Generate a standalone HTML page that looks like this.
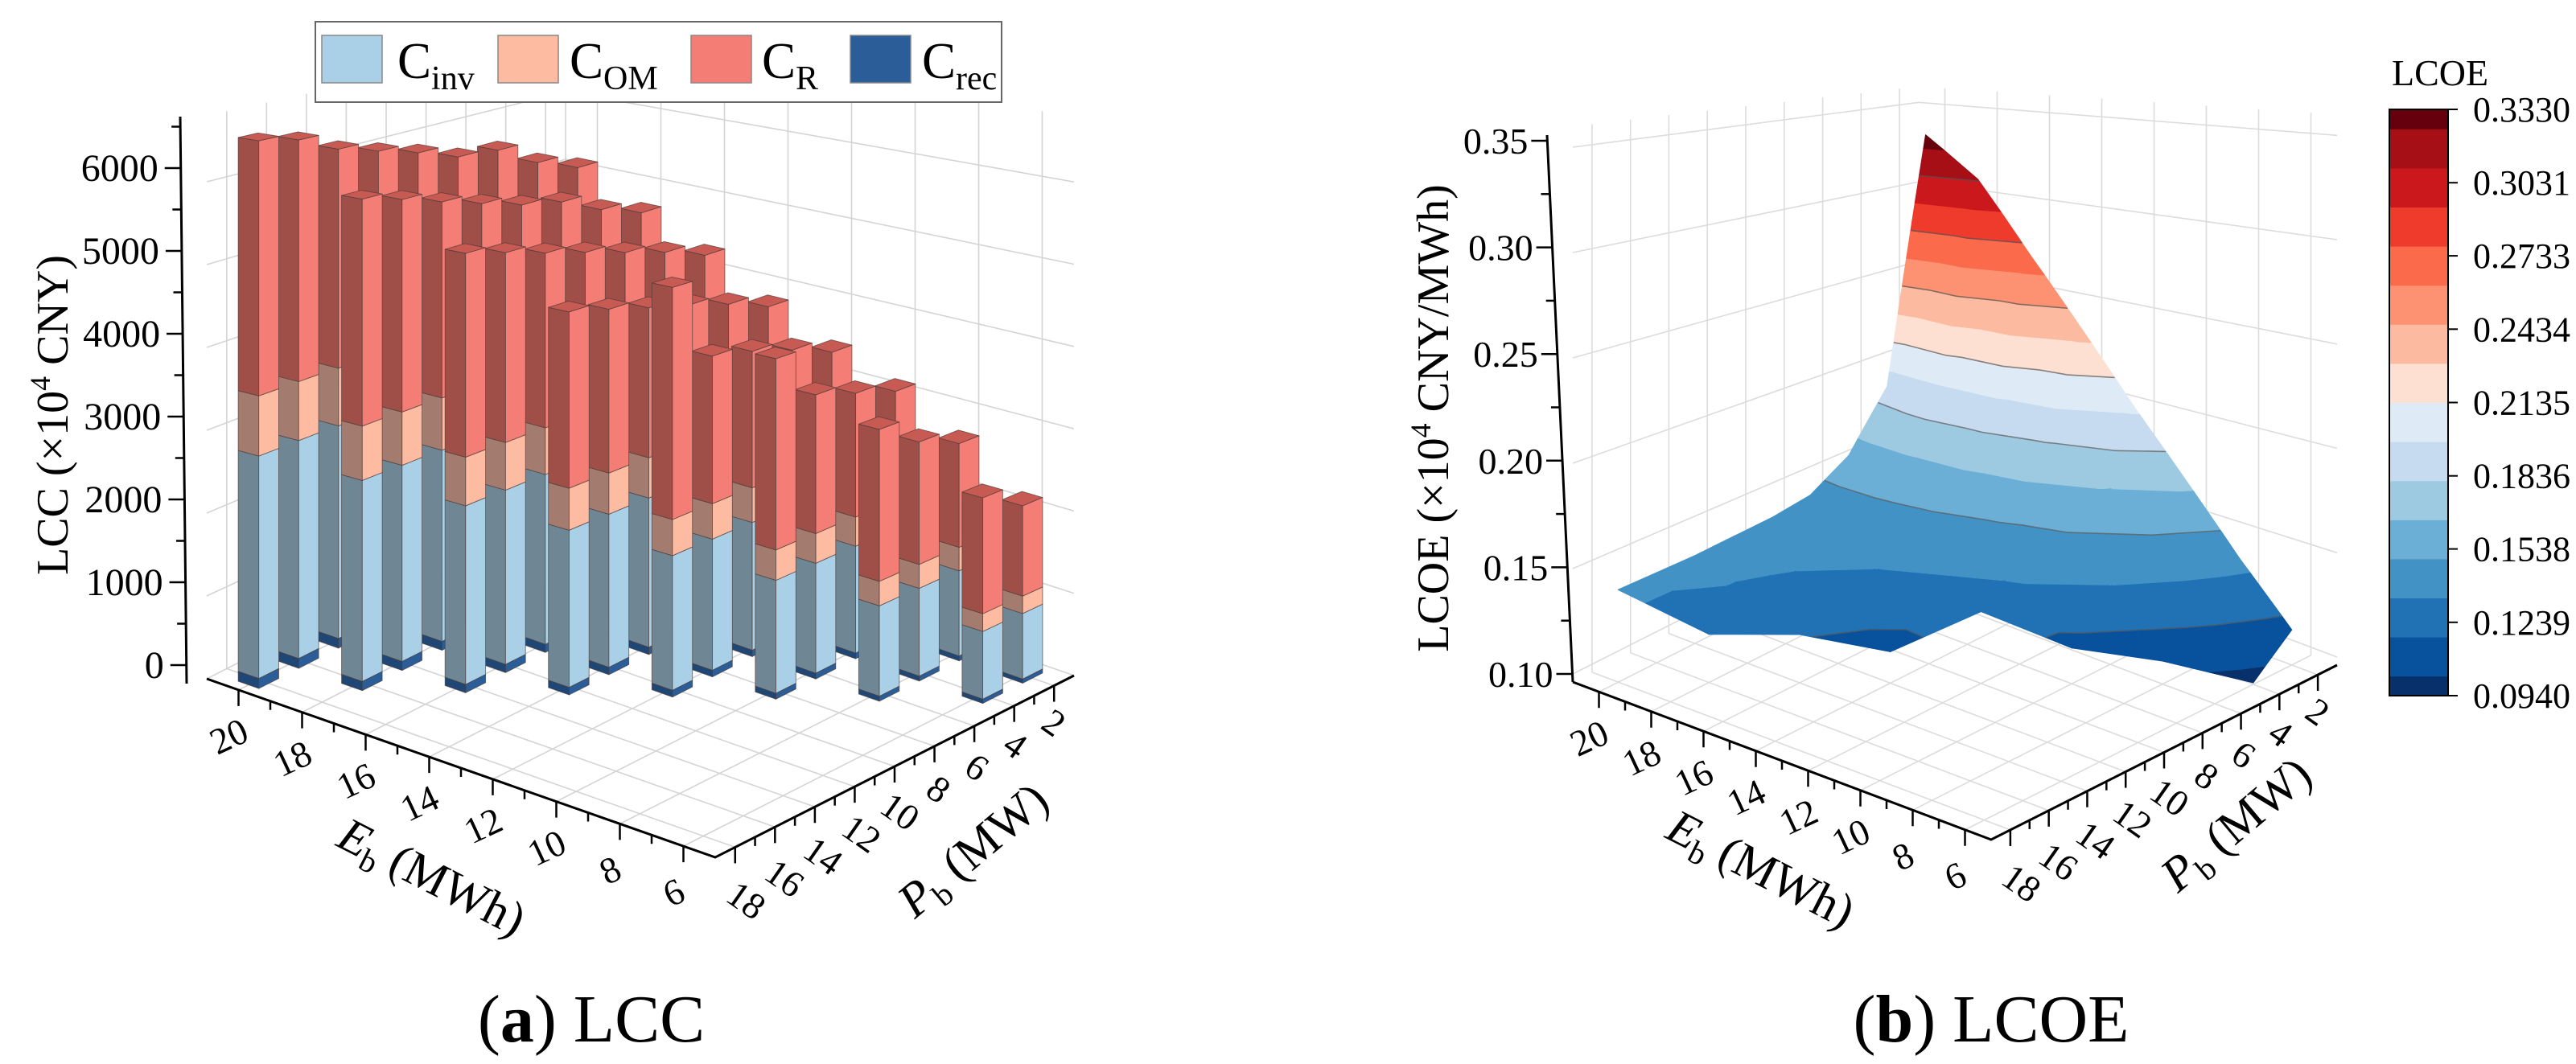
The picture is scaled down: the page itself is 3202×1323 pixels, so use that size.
<!DOCTYPE html>
<html><head><meta charset="utf-8"><title>LCC and LCOE</title>
<style>html,body{margin:0;padding:0;background:#fff;}svg{display:block;}</style>
</head><body>
<svg id="chart" xmlns="http://www.w3.org/2000/svg" width="3202" height="1323" viewBox="0 0 3202 1323" font-family="'Liberation Serif', serif">
<rect x="0" y="0" width="3202" height="1323" fill="#fff"/>
</svg>
<script>
// ---------- LCC data (rows by E_b, P_b descending) ----------
const lccE = [20,18,16,14,12,10,8,6];
const pRows = [[18,16,14,12,10,8,6,4,2],[16,14,12,10,8,6,4,2],[14,12,10,8,6,4,2],[12,10,8,6,4,2],[10,8,6,4,2],[8,6,4,2],[6,4,2],[4,2]];
const cInv = [[2660,2660,2650,2640,2630,2620,2610,2600,2590],[2400,2390,2380,2370,2360,2350,2340,2330],[2130,2120,2110,2100,2090,2080,2070],[1870,1860,1850,1840,1830,1820],[1600,1590,1580,1570,1560],[1340,1330,1320,1310],[1070,1060,1050],[800,790]];
const cOM = [[720,720,720,720,720,720,720,720,720],[650,650,650,650,650,650,650,650],[580,580,580,580,580,580,580],[500,500,500,500,500,500],[430,430,430,430,430],[360,360,360,360],[290,290,290],[210,210]];
const cR = [[3050,2950,2730,2590,2450,2270,2230,1920,1700],[2710,2590,2440,2290,2140,2040,1790,1590],[2430,2310,2170,2040,1890,1740,1540],[2100,1990,1860,1740,1590,1390],[2760,1790,1690,1540,1340],[2270,1680,1530,1380],[1800,1480,1280],[1370,1090]];
const cRec = [[120,120,120,120,120,120,120,120,120],[110,110,110,110,110,110,110,110],[100,100,100,100,100,100,100],[90,90,90,90,90,90],[80,80,80,80,80],[70,70,70,70],[60,60,60],[50,50]];
const lccTicks = [0,1000,2000,3000,4000,5000,6000];
const eTicks = [20,18,16,14,12,10,8,6];
const pTicks = [18,16,14,12,10,8,6,4,2];
// ---------- LCOE data (rows by E_b, P_b ascending) ----------
const lcoeE = [20,18,16,14,12,10,8,6];
const lcoeP = [[2,4,6,8,10,12,14,16,18],[2,4,6,8,10,12,14,16],[2,4,6,8,10,12,14],[2,4,6,8,10,12],[2,4,6,8,10],[2,4,6,8],[2,4,6],[2,4]];
const lcoeV = [[0.333,0.189,0.158,0.145,0.142,0.141,0.140,0.140,0.140],[0.310,0.195,0.160,0.145,0.138,0.135,0.132,0.119],[0.271,0.190,0.158,0.142,0.134,0.128,0.119],[0.235,0.180,0.152,0.138,0.128,0.111],[0.200,0.165,0.145,0.132,0.130],[0.169,0.148,0.133,0.113],[0.139,0.127,0.107],[0.113,0.097]];
const lcoeTicks = [0.10,0.15,0.20,0.25,0.30,0.35];
const cbLabels = ['0.3330','0.3031','0.2733','0.2434','0.2135','0.1836','0.1538','0.1239','0.0940'];
const cbColors = ['#08306b','#08519c','#2171b5','#4292c6','#6baed6','#9ecae1','#c6dbef','#deebf7','#fee0d2','#fcbba1','#fc9272','#fb6a4a','#ef3b2c','#cb181d','#a50f15','#67000d'];

const NS='http://www.w3.org/2000/svg';
const sv=document.getElementById('chart');
function mk(tag,attrs,parent){const el=document.createElementNS(NS,tag);for(const k in attrs)el.setAttribute(k,attrs[k]);(parent||sv).appendChild(el);return el;}
function pts(a){return a.map(p=>p[0].toFixed(1)+','+p[1].toFixed(1)).join(' ');}

// ================= LEFT PANEL =================
const gL=mk('g',{});


const LF={F:[889,1066],L:[257,844],R:[1335,840]};
const LS={F:0.121,L:0.103,R:0.1023,B:0.084};
function lfloor(E,P){const a=(E-5)/16,b=(19-P)/18;return[LF.F[0]+a*(LF.L[0]-LF.F[0])+b*(LF.R[0]-LF.F[0]),LF.F[1]+a*(LF.L[1]-LF.F[1])+b*(LF.R[1]-LF.F[1])];}
function lscale(E,P){const a=(E-5)/16,b=(19-P)/18;return LS.F*(1-a)*(1-b)+LS.L*a*(1-b)+LS.R*(1-a)*b+LS.B*a*b;}
function lp(E,P,z){const f=lfloor(E,P);return[f[0],f[1]-z*lscale(E,P)];}
const ZTOP=6800;
const gridL=mk('g',{stroke:'#d4d4d4','stroke-width':1.6,fill:'none'},gL);


for(const z of lccTicks){
  const a=lp(21,19,z),b=lp(21,1,z),c=lp(5,1,z);
  const ln=mk('polyline',{points:pts([a,b,c])},gridL);
  
  
}
for(const p of pTicks){const ln=mk('polyline',{points:pts([lp(21,p,0),lp(21,p,ZTOP)])},gridL);
  
  
  const f=mk('polyline',{points:pts([lp(21,p,0),lp(5,p,0)])},gridL);
  
  }
for(const e of eTicks){const ln=mk('polyline',{points:pts([lp(e,1,0),lp(e,1,ZTOP)])},gridL);
  
  
  const f=mk('polyline',{points:pts([lp(e,1,0),lp(e,19,0)])},gridL);
  
  }
const corner=mk('polyline',{points:pts([lp(21,1,0),lp(21,1,ZTOP)])},gridL);



function axisLines(g,proj,name){
  const ea=mk('polyline',{points:pts([proj(21,19),proj(5,19),proj(5,1)]),stroke:'#000','stroke-width':3,fill:'none'},g);
  
  
  for(let e=6;e<=20;e++){const p=proj(e,19);const t=mk('line',{x1:p[0],y1:p[1],x2:p[0],y2:p[1]+(e%2?11:20),stroke:'#000','stroke-width':2.5},g);
    
    }
  for(let q=2;q<=18;q++){const p=proj(5,q);const t=mk('line',{x1:p[0],y1:p[1],x2:p[0],y2:p[1]+(q%2?11:20),stroke:'#000','stroke-width':2.5},g);
    
    }
  for(const e of eTicks){const p=proj(e,19);const tx=mk('text',{x:p[0]-10,y:p[1]+62,'font-size':46,'text-anchor':'middle','dominant-baseline':'middle',transform:`rotate(-25 ${p[0]-10} ${p[1]+62})`},g);
    tx.textContent=e;
    
    }
  for(const q of pTicks){const p=proj(5,q);const t=(18-q)/16;const x=p[0]+11-14*t,y=p[1]+70-20*t;
    const tx=mk('text',{x:x,y:y,'font-size':46,'text-anchor':'middle','dominant-baseline':'middle',transform:`rotate(35 ${x} ${y})`},g);
    tx.textContent=q;
    
    }
}
axisLines(gL,(e,p)=>lfloor(e,p),'lcc');

const zax=mk('line',{x1:224,y1:145,x2:232,y2:850,stroke:'#000','stroke-width':3},gL);


function lzy(v){return 827-v*0.1030;}
function lzx(y){return 232-(850-y)*8/705;}
for(let v=0;v<=6500;v+=500){const y=lzy(v),x=lzx(y);const major=v%1000===0;
  const t=mk('line',{x1:x-(major?20:11),y1:y,x2:x,y2:y,stroke:'#000','stroke-width':2.5},gL);
  
  }
for(const v of lccTicks){const y=lzy(v),x=lzx(y);
  const tx=mk('text',{x:x-28,y:y+16,'font-size':48,'text-anchor':'end'},gL);
  tx.textContent=v;
  
  }

const segCols=[['#2b5d99','#1f4775'],['#a9d0e6','#6f8795'],['#fdbba2','#a37c6f'],['#f47e75','#9f4f48']];
const segNames=['c-rec','c-inv','c-om','c-r'];
const bars=[];
lccE.forEach((E,i)=>pRows[i].forEach((P,j)=>{bars.push({E,P,vals:[cRec[i][j],cInv[i][j],cOM[i][j],cR[i][j]],d:lfloor(E,P)[1]});}));
bars.sort((a,b)=>a.d-b.d);
const gB=mk('g',{stroke:'#4a3a38','stroke-width':0.9,'stroke-opacity':0.7,'stroke-linejoin':'round'},gL);


for(const b of bars){
  const e0=b.E-0.325,e1=b.E+0.325,p0=b.P-0.5,p1=b.P+0.5;
  const gb=mk('g',{},gB);
  
  
  let z0=0;
  b.vals.forEach((v,k)=>{const z1=z0+v;
    const lf=mk('polygon',{points:pts([lp(e1,p1,z0),lp(e0,p1,z0),lp(e0,p1,z1),lp(e1,p1,z1)]),fill:segCols[k][1]},gb);
    
    
    const rf=mk('polygon',{points:pts([lp(e0,p1,z0),lp(e0,p0,z0),lp(e0,p0,z1),lp(e0,p1,z1)]),fill:segCols[k][0]},gb);
    
    
    z0=z1;});
  const tp=mk('polygon',{points:pts([lp(e0,p0,z0),lp(e0,p1,z0),lp(e1,p1,z0),lp(e1,p0,z0)]),fill:'#c75a53'},gb);
  
  
}

const lg=mk('g',{},gL);


const lgb=mk('rect',{x:392,y:27,width:853,height:100,fill:'#fff',stroke:'#666','stroke-width':2},lg);


const legItems=[[400,494,'#a9d0e6','inv'],[619,708,'#fdbba2','OM'],[859,947,'#f47e75','R'],[1057,1146,'#2b5d99','rec']];
for(const it of legItems){
  const sw=mk('rect',{x:it[0],y:44,width:75,height:59,fill:it[2],stroke:'#888','stroke-width':1.5},lg);
  
  
  const tx=mk('text',{x:it[1],y:97,'font-size':63},lg);
  
  
  tx.innerHTML='C<tspan font-size="42" dy="14">'+it[3]+'</tspan>';
}
const yt=mk('text',{transform:'translate(84,516) rotate(-90)','font-size':56,'text-anchor':'middle'},gL);
yt.innerHTML='LCC (×10<tspan font-size="36" dy="-22">4</tspan><tspan dy="22"> CNY)</tspan>';


const et=mk('text',{transform:'translate(528,1108) rotate(27)','font-size':60,'text-anchor':'middle'},gL);
et.innerHTML='<tspan font-style="italic">E</tspan><tspan font-size="40" dy="12">b</tspan><tspan dy="-12"> (MWh)</tspan>';


const pt=mk('text',{transform:'translate(1222,1072) rotate(-40)','font-size':60,'text-anchor':'middle'},gL);
pt.innerHTML='<tspan font-style="italic">P</tspan><tspan font-size="40" dy="12">b</tspan><tspan dy="-12"> (MW)</tspan>';


const capA=mk('text',{x:735,y:1295,'font-size':84,'text-anchor':'middle'},gL);
capA.innerHTML='(<tspan font-weight="bold">a</tspan>) LCC';



// ================= RIGHT PANEL =================
const gR=mk('g',{});


const RF={F:[2475,1044],L:[1955,848],R:[2905,827]};
const RS={F:3240,L:2620,R:2595,B:1975};
function rfloor(E,P){const a=(E-5)/16,b=(19-P)/18;return[RF.F[0]+a*(RF.L[0]-RF.F[0])+b*(RF.R[0]-RF.F[0]),RF.F[1]+a*(RF.L[1]-RF.F[1])+b*(RF.R[1]-RF.F[1])];}
function rscale(E,P){const a=(E-5)/16,b=(19-P)/18;return RS.F*(1-a)*(1-b)+RS.L*a*(1-b)+RS.R*(1-a)*b+RS.B*a*b;}
function rp(E,P,v){const f=rfloor(E,P);return[f[0],f[1]-10-(v-0.10)*rscale(E,P)];}
const VTOP=0.36;
const gridR=mk('g',{stroke:'#dcdcdc','stroke-width':1.6,fill:'none'},gR);


for(const v of lcoeTicks){const ln=mk('polyline',{points:pts([rp(21,19,v),rp(21,1,v),rp(5,1,v)])},gridR);
  
  }
for(const p of pTicks){const ln=mk('polyline',{points:pts([rfloor(21,p),rp(21,p,VTOP)])},gridR);
  
  
  const f=mk('polyline',{points:pts([rfloor(21,p),rfloor(5,p)])},gridR);
  
  }
for(const e of eTicks){const ln=mk('polyline',{points:pts([rfloor(e,1),rp(e,1,VTOP)])},gridR);
  
  
  const f=mk('polyline',{points:pts([rfloor(e,1),rfloor(e,19)])},gridR);
  
  }
axisLines(gR,(e,p)=>rfloor(e,p),'lcoe');
const rz=mk('line',{x1:1923,y1:168,x2:1955,y2:848,stroke:'#000','stroke-width':3},gR);


function rzy(v){return 838-(v-0.10)*2652;}
function rzx(y){return 1955-(848-y)*32/680;}
for(let v=0.10;v<=0.3501;v+=0.025){const y=rzy(v),x=rzx(y);const major=Math.round(v*1000)%50===0;
  const t=mk('line',{x1:x-(major?20:11),y1:y,x2:x,y2:y,stroke:'#000','stroke-width':2.5},gR);
  
  }
for(const v of lcoeTicks){const y=rzy(v),x=rzx(y);
  const tx=mk('text',{x:x-24,y:y+16,'font-size':46,'text-anchor':'end'},gR);
  tx.textContent=v.toFixed(2);
  
  }

// surface: filled contour bands per triangle
const node={};
lcoeE.forEach((E,i)=>lcoeP[i].forEach((P,j)=>{node[E+'_'+P]=lcoeV[i][j];}));
function has(E,P){return node[E+'_'+P]!==undefined;}
const tris=[];
for(const E of lcoeE){if(E>=20)continue;const row=lcoeP[lcoeE.indexOf(E)];
  for(const P of row){
    if(has(E,P+2)){tris.push([[E,P],[E+2,P],[E+2,P+2]]);tris.push([[E,P],[E+2,P+2],[E,P+2]]);}
    else if(has(E+2,P+2)){tris.push([[E,P],[E+2,P],[E+2,P+2]]);}
  }}
const VMIN=0.094,VMAX=0.333,STEP=(VMAX-VMIN)/15;
function clip(poly,lev,above){const out=[];
  for(let i=0;i<poly.length;i++){const p=poly[i],q=poly[(i+1)%poly.length];
    const pin=above?p[2]>=lev:p[2]<=lev, qin=above?q[2]>=lev:q[2]<=lev;
    if(pin)out.push(p);
    if(pin!==qin){const f=(lev-p[2])/(q[2]-p[2]);out.push([p[0]+(q[0]-p[0])*f,p[1]+(q[1]-p[1])*f,lev]);}
  }return out;}
const gS=mk('g',{'stroke-width':1.2,'stroke-linejoin':'round'},gR);


tris.map(t=>{const V=t.map(q=>[q[0],q[1],node[q[0]+'_'+q[1]]]);const cE=(V[0][0]+V[1][0]+V[2][0])/3,cP=(V[0][1]+V[1][1]+V[2][1])/3;return{V,d:rfloor(cE,cP)[1]};})
 .sort((a,b)=>a.d-b.d).forEach(o=>{
  for(let k=0;k<16;k++){const lo=k===0?-1:VMIN+(k-0.5)*STEP,hi=k===15?9:VMIN+(k+0.5)*STEP;
    const poly=clip(clip(o.V,lo,true),hi,false);
    if(poly.length<3)continue;
    const pg=mk('polygon',{points:pts(poly.map(q=>rp(q[0],q[1],q[2]))),fill:cbColors[k],stroke:cbColors[k]},gS);
    
    }
 });
const gC=mk('g',{stroke:'#555','stroke-width':1.6,'stroke-opacity':0.7,fill:'none'},gR);


for(let k=1;k<15;k+=2){const lev=VMIN+(k+0.5)*STEP;
  for(const t of tris){const V=t.map(q=>q.concat(node[q[0]+'_'+q[1]]));const cr=[];
    for(let a=0;a<3;a++){const p=V[a],q=V[(a+1)%3];
      if((p[2]-lev)*(q[2]-lev)<0){const f=(lev-p[2])/(q[2]-p[2]);cr.push([p[0]+(q[0]-p[0])*f,p[1]+(q[1]-p[1])*f,lev]);}}
    if(cr.length===2){const a=rp(...cr[0]),b=rp(...cr[1]);const ln=mk('line',{x1:a[0],y1:a[1],x2:b[0],y2:b[1]},gC);
      
      }
  }}
// colorbar
const gCB=mk('g',{},gR);


const CBT=136,CBB=865,CBX=2970,CBW=73;
function cby(v){return CBB-(v-VMIN)/(VMAX-VMIN)*(CBB-CBT);}
cbColors.forEach((c,k)=>{const lo=Math.max(VMIN,VMIN+(k-0.5)*STEP),hi=Math.min(VMAX,VMIN+(k+0.5)*STEP);
  const r=mk('rect',{x:CBX,y:cby(hi),width:CBW,height:cby(lo)-cby(hi)+0.5,fill:c},gCB);
  
  });
const cbf=mk('rect',{x:CBX,y:CBT,width:CBW,height:CBB-CBT,fill:'none',stroke:'#000','stroke-width':2},gCB);


cbLabels.forEach(l=>{const y=cby(parseFloat(l));
  const t=mk('line',{x1:CBX+CBW,y1:y,x2:CBX+CBW+12,y2:y,stroke:'#000','stroke-width':2},gCB);
  
  
  const tx=mk('text',{x:3074,y:y+15,'font-size':44},gCB);
  tx.textContent=l;
  
  });
const cbt=mk('text',{x:2973,y:106,'font-size':46},gCB);
cbt.textContent='LCOE';


const ryt=mk('text',{transform:'translate(1800,520) rotate(-90)','font-size':56,'text-anchor':'middle'},gR);
ryt.innerHTML='LCOE (×10<tspan font-size="36" dy="-22">4</tspan><tspan dy="22"> CNY/MWh)</tspan>';


const ret=mk('text',{transform:'translate(2180,1098) rotate(27)','font-size':60,'text-anchor':'middle'},gR);
ret.innerHTML='<tspan font-style="italic">E</tspan><tspan font-size="40" dy="12">b</tspan><tspan dy="-12"> (MWh)</tspan>';


const rpt=mk('text',{transform:'translate(2792,1040) rotate(-40)','font-size':60,'text-anchor':'middle'},gR);
rpt.innerHTML='<tspan font-style="italic">P</tspan><tspan font-size="40" dy="12">b</tspan><tspan dy="-12"> (MW)</tspan>';


const capB=mk('text',{x:2475,y:1295,'font-size':84,'text-anchor':'middle'},gR);
capB.innerHTML='(<tspan font-weight="bold">b</tspan>) LCOE';


</script>
</body></html>
